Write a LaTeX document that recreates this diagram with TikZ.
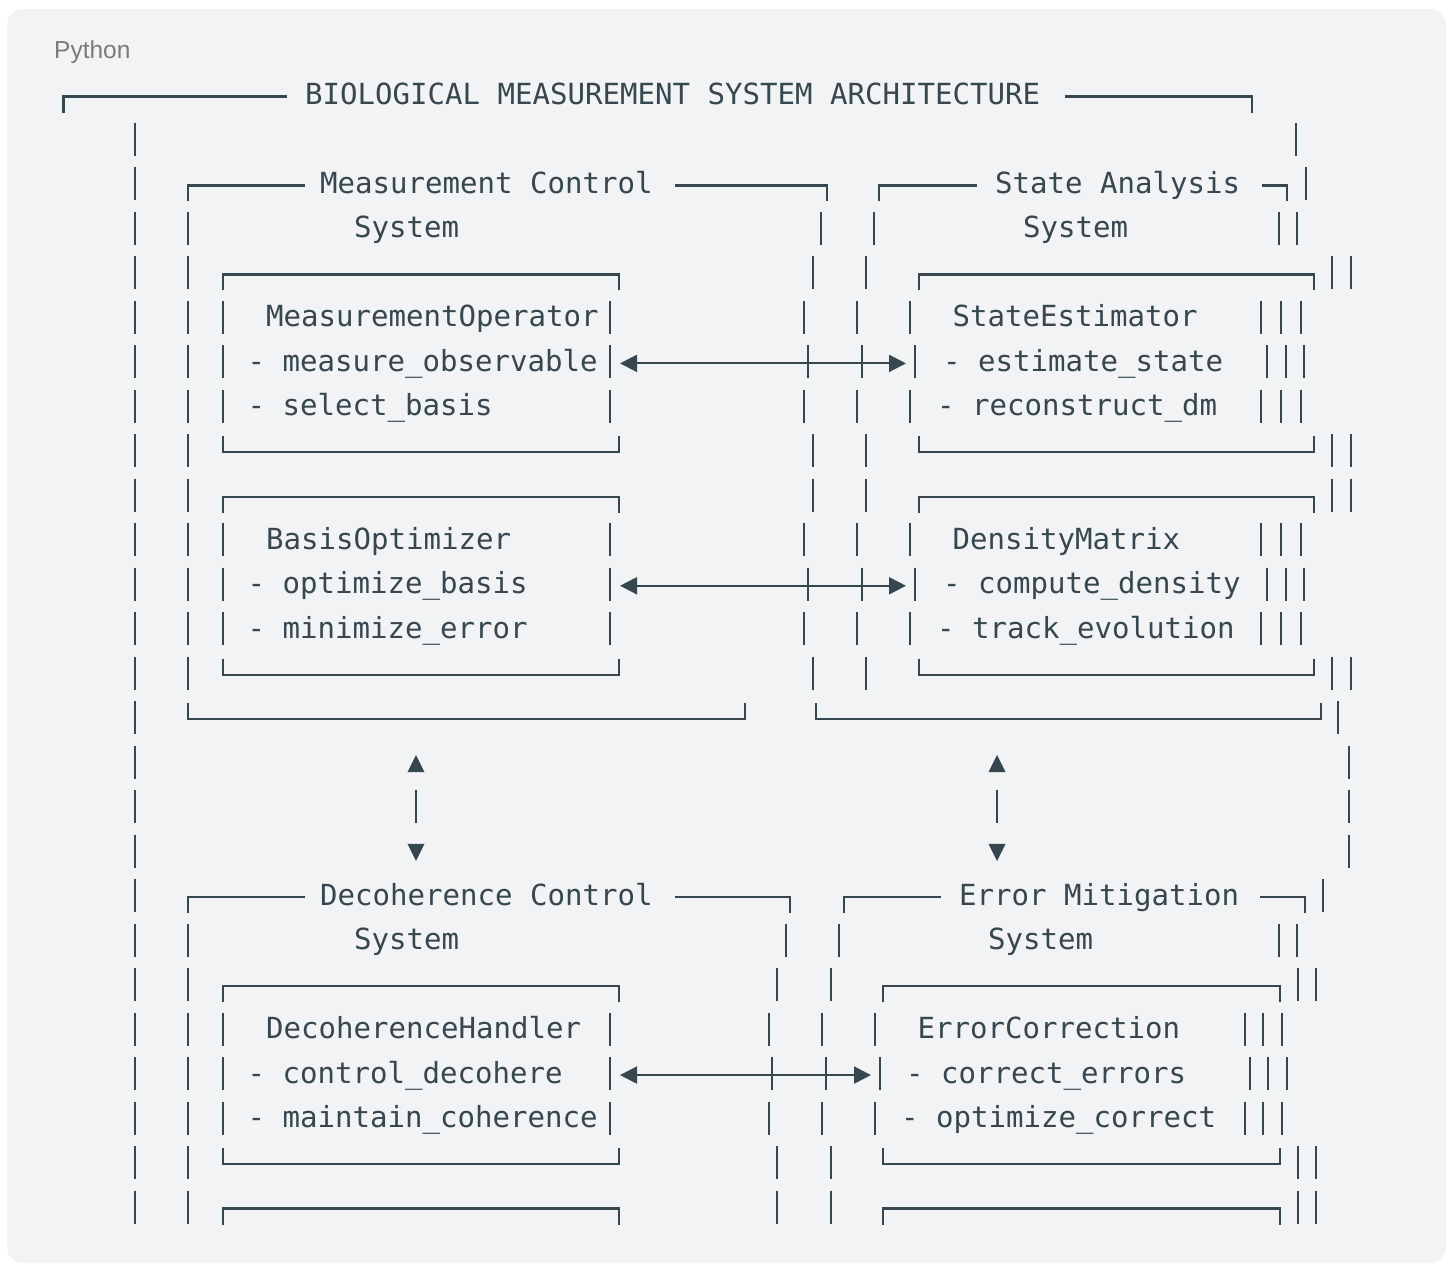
\documentclass[tikz,border=0pt]{standalone}
\usepackage{fontspec}
\usepackage{xcolor}
\usepackage{tikz}
\usetikzlibrary{arrows.meta,positioning}
\newfontfamily\codefont{DejaVu Sans Mono}
\newfontfamily\tagfont{Liberation Sans}
\definecolor{slatemain}{HTML}{37474F}
\definecolor{panelgray}{HTML}{F1F3F5}
\definecolor{taggray}{HTML}{7A7A7A}
\tikzset{
  every node/.append style={font=\codefont\fontsize{29.07}{34}\selectfont,text=slatemain,inner sep=0pt,anchor=base west},
  wire/.style={slatemain,line width=2.3pt},
  boxline/.style={slatemain,line width=2.2pt,line join=miter},
  duplex/.style={slatemain,line width=2pt,{Triangle[length=17pt,width=17pt]}-{Triangle[length=17pt,width=17pt]}},
  declare function={ry(\k)=94+44.48*\k;}
}
% one text row of pipes
\newcommand{\pipesat}[2]{\foreach \px in {#2} \draw[wire] (\px,{ry(#1)-15.5}) -- (\px,{ry(#1)+17.5});}
\newcommand{\boxtop}[3]{\draw[boxline] (#2,{ry(#1)+18.5}) -- (#2,{ry(#1)+2.5}) -- (#3,{ry(#1)+2.5}) -- (#3,{ry(#1)+18.5});}
\newcommand{\boxbot}[3]{\draw[boxline] (#2,{ry(#1)-13.5}) -- (#2,{ry(#1)+2.5}) -- (#3,{ry(#1)+2.5}) -- (#3,{ry(#1)-13.5});}
\newcommand{\titletop}[5]{\draw[boxline] (#2,{ry(#1)+18.5}) -- (#2,{ry(#1)+2.5}) -- (#3,{ry(#1)+2.5});
  \draw[boxline] (#4,{ry(#1)+2.5}) -- (#5,{ry(#1)+2.5}) -- (#5,{ry(#1)+18.5});}

\begin{document}
\begin{tikzpicture}[x=1pt,y=-1pt]
  \useasboundingbox (0,0) rectangle (1453,1264);
  \fill[white] (0,0) rectangle (1453,1264);
  \fill[panelgray,rounded corners=16pt] (7,9) rectangle (1446,1263);
  \node[font=\tagfont\fontsize{24.5}{29}\selectfont,text=taggray] (lang) at (54,58.3) {Python};

  % outer frame
  \node (title) at (305,{ry(0)+10.5}) {BIOLOGICAL MEASUREMENT SYSTEM ARCHITECTURE};
  \titletop{0}{63.5}{287}{1065}{1252}
  \pipesat{1}{135,1296}

  % measurement control / state analysis
  \node (mctitle) at (320,{ry(2)+10.5}) {Measurement Control};
  \node (mcsys) at (354,{ry(3)+10.5}) {System};
  \node (satitle) at (995,{ry(2)+10.5}) {State Analysis};
  \node (sasys) at (1023,{ry(3)+10.5}) {System};
  \titletop{2}{188}{305}{675}{827}
  \titletop{2}{879}{977}{1262}{1287}
  \pipesat{2}{135,1306}
  \pipesat{3}{135,188,821,874,1279,1297}
  \foreach \r in {4,8,9,13} {\pipesat{\r}{135,188,813,866,1332,1351}}
  \foreach \r in {5,7,10,12} {\pipesat{\r}{135,188,223,610,804,857,910,1261,1281,1301}}
  \foreach \r in {6,11} {\pipesat{\r}{135,188,223,610,808,862,915,1267,1286,1304}}
  \foreach \r in {4,9} {\boxtop{\r}{223}{619} \boxtop{\r}{919}{1314}}
  \foreach \r in {8,13} {\boxbot{\r}{223}{619} \boxbot{\r}{919}{1314}}

  \node (mop) at (266,{ry(5)+10.5}) {MeasurementOperator};
  \node (mopa) at (247.5,{ry(6)+10.5}) {- measure\_observable};
  \node (mopb) at (247.5,{ry(7)+10.5}) {- select\_basis};
  \node (bop) at (266,{ry(10)+10.5}) {BasisOptimizer};
  \node (bopa) at (247.5,{ry(11)+10.5}) {- optimize\_basis};
  \node (bopb) at (247.5,{ry(12)+10.5}) {- minimize\_error};
  \node (sest) at (952.5,{ry(5)+10.5}) {StateEstimator};
  \node (sesta) at (943,{ry(6)+10.5}) {- estimate\_state};
  \node (sestb) at (937,{ry(7)+10.5}) {- reconstruct\_dm};
  \node (dmx) at (952.5,{ry(10)+10.5}) {DensityMatrix};
  \node (dmxa) at (943,{ry(11)+10.5}) {- compute\_density};
  \node (dmxb) at (937,{ry(12)+10.5}) {- track\_evolution};

  \coordinate (mopR) at (620,{ry(6)+2.5});
  \coordinate (sestL) at (906,{ry(6)+2.5});
  \coordinate (bopR) at (620,{ry(11)+2.5});
  \coordinate (dmxL) at (906,{ry(11)+2.5});
  \draw[duplex] (mopR) -- (sestL);
  \draw[duplex] (bopR) -- (dmxL);

  \boxbot{14}{188}{745}
  \boxbot{14}{816}{1321}
  \pipesat{14}{135,1338}

  % vertical links
  \coordinate (mcU) at (416,{ry(15)+2.3});
  \coordinate (mcD) at (416,{ry(17)+2.3});
  \coordinate (saU) at (997,{ry(15)+2.3});
  \coordinate (saD) at (997,{ry(17)+2.3});
  \foreach \c in {mcU,saU} \fill[slatemain] (\c) ++(-8.5,8.5) -- ++(17,0) -- ++(-8.5,-17) -- cycle;
  \foreach \c in {mcD,saD} \fill[slatemain] (\c) ++(-8.5,-8.5) -- ++(17,0) -- ++(-8.5,17) -- cycle;
  \pipesat{15}{135,1349}
  \pipesat{16}{135,416,997,1349}
  \pipesat{17}{135,1349}

  % decoherence control / error mitigation
  \node (dctitle) at (320,{ry(18)+10.5}) {Decoherence Control};
  \node (dcsys) at (354,{ry(19)+10.5}) {System};
  \node (emtitle) at (959,{ry(18)+10.5}) {Error Mitigation};
  \node (emsys) at (988,{ry(19)+10.5}) {System};
  \titletop{18}{188}{305}{675}{790}
  \titletop{18}{844}{941}{1260}{1305}
  \pipesat{18}{135,1323}
  \pipesat{19}{135,188,786,839,1279,1297}
  \foreach \r in {20,24,25} {\pipesat{\r}{135,188,777,831,1298,1316}}
  \foreach \r in {21,23} {\pipesat{\r}{135,188,223,610,769,822,875,1245,1263,1282}}
  \pipesat{22}{135,188,223,610,772,826,880,1250,1268,1287}
  \foreach \r in {20,25} {\boxtop{\r}{223}{619} \boxtop{\r}{883}{1280}}
  \boxbot{24}{223}{619}
  \boxbot{24}{883}{1280}

  \node (dch) at (266,{ry(21)+10.5}) {DecoherenceHandler};
  \node (dcha) at (247.5,{ry(22)+10.5}) {- control\_decohere};
  \node (dchb) at (247.5,{ry(23)+10.5}) {- maintain\_coherence};
  \node (ecr) at (917.5,{ry(21)+10.5}) {ErrorCorrection};
  \node (ecra) at (906,{ry(22)+10.5}) {- correct\_errors};
  \node (ecrb) at (901,{ry(23)+10.5}) {- optimize\_correct};

  \coordinate (dchR) at (620,{ry(22)+2.5});
  \coordinate (ecrL) at (871,{ry(22)+2.5});
  \draw[duplex] (dchR) -- (ecrL);
\end{tikzpicture}
\end{document}
